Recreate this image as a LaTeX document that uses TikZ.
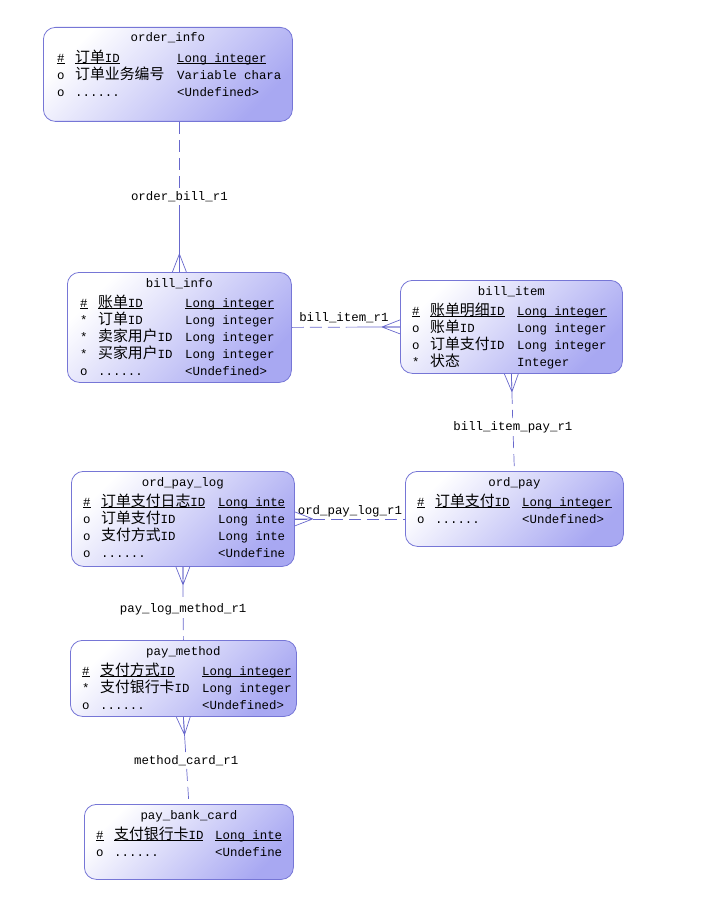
\documentclass[tikz,border=0pt]{standalone}
\usepackage{fontspec}
\setmainfont{Liberation Mono}
\newfontfamily\zhfont{Noto Sans CJK SC}[Scale=1.2]
\usetikzlibrary{calc}

\definecolor{entline}{RGB}{118,118,214}
\definecolor{entfill}{RGB}{168,168,242}
\definecolor{relline}{RGB}{104,104,204}

\newcommand\cn[1]{\smash{\zhfont #1}}
\newcommand\pk[1]{\underline{\smash{#1}}}
% crow's foot at the entity end #1 of a line going to #2
\newcommand\crowfoot[2]{%
  \draw[rel] ($(#1)!18pt!(#2)$) -- ($(#1)!7pt!90:(#2)$)
    ($(#1)!18pt!(#2)$) -- (#1)
    ($(#1)!18pt!(#2)$) -- ($(#1)!7pt!-90:(#2)$);}

\begin{document}
\begin{tikzpicture}[x=1pt,y=-1pt,
  entity/.style={draw=entline,line width=.8pt,rounded corners=12pt,
    top color=white,bottom color=entfill,shading angle=45,
    anchor=north west,inner sep=0},
  ttl/.style={anchor=base,inner sep=0,font=\fontsize{12.4}{17}\selectfont},
  rows/.style={anchor=north west,inner sep=0,font=\fontsize{12.4}{17}\selectfont},
  lbl/.style={anchor=base,inner sep=3pt,font=\fontsize{12.4}{17}\selectfont},
  rel/.style={draw=relline,line width=.7pt},
  opt/.style={rel,dash pattern=on 12pt off 6pt}]

  \useasboundingbox (0,0) rectangle (720,915);

  % entities
  \node[entity,minimum width=249pt,minimum height=94pt] (oi) at (43,27) {};
  \node[ttl] (oi-t) at ($(oi.north)+(0,15)$) {order\_info};
  \node[rows] (oi-f) at ($(oi.north west)+(14,23)$) {\begin{tabular}{@{}p{18pt}@{}p{102pt}@{}l@{}}
    \pk{\#} & \pk{\cn{订单}ID} & \pk{Long integer}\\
    o & \cn{订单业务编号} & Variable chara\\
    o & ...... & <Undefined>
  \end{tabular}};

  \node[entity,minimum width=224pt,minimum height=110pt] (bi) at (67,272) {};
  \node[ttl] (bi-t) at ($(bi.north)+(0,15)$) {bill\_info};
  \node[rows] (bi-f) at ($(bi.north west)+(13,23)$) {\begin{tabular}{@{}p{18pt}@{}p{87pt}@{}l@{}}
    \pk{\#} & \pk{\cn{账单}ID} & \pk{Long integer}\\
    {*} & \cn{订单}ID & Long integer\\
    {*} & \cn{卖家用户}ID & Long integer\\
    {*} & \cn{买家用户}ID & Long integer\\
    o & ...... & <Undefined>
  \end{tabular}};

  \node[entity,minimum width=222pt,minimum height=93pt] (bit) at (400,280) {};
  \node[ttl] (bit-t) at ($(bit.north)+(0,15)$) {bill\_item};
  \node[rows] (bit-f) at ($(bit.north west)+(12,23)$) {\begin{tabular}{@{}p{18pt}@{}p{87pt}@{}l@{}}
    \pk{\#} & \pk{\cn{账单明细}ID} & \pk{Long integer}\\
    o & \cn{账单}ID & Long integer\\
    o & \cn{订单支付}ID & Long integer\\
    {*} & \cn{状态} & Integer
  \end{tabular}};

  \node[entity,minimum width=223pt,minimum height=95pt] (opl) at (71,471) {};
  \node[ttl] (opl-t) at ($(opl.north)+(0,15)$) {ord\_pay\_log};
  \node[rows] (opl-f) at ($(opl.north west)+(12,23)$) {\begin{tabular}{@{}p{18pt}@{}p{117pt}@{}l@{}}
    \pk{\#} & \pk{\cn{订单支付日志}ID} & \pk{Long inte}\\
    o & \cn{订单支付}ID & Long inte\\
    o & \cn{支付方式}ID & Long inte\\
    o & ...... & <Undefine
  \end{tabular}};

  \node[entity,minimum width=218pt,minimum height=75pt] (op) at (405,471) {};
  \node[ttl] (op-t) at ($(op.north)+(0,15)$) {ord\_pay};
  \node[rows] (op-f) at ($(op.north west)+(12,23)$) {\begin{tabular}{@{}p{18pt}@{}p{87pt}@{}l@{}}
    \pk{\#} & \pk{\cn{订单支付}ID} & \pk{Long integer}\\
    o & ...... & <Undefined>
  \end{tabular}};

  \node[entity,minimum width=226pt,minimum height=76pt] (pm) at (70,640) {};
  \node[ttl] (pm-t) at ($(pm.north)+(0,15)$) {pay\_method};
  \node[rows] (pm-f) at ($(pm.north west)+(12,23)$) {\begin{tabular}{@{}p{18pt}@{}p{102pt}@{}l@{}}
    \pk{\#} & \pk{\cn{支付方式}ID} & \pk{Long integer}\\
    {*} & \cn{支付银行卡}ID & Long integer\\
    o & ...... & <Undefined>
  \end{tabular}};

  \node[entity,minimum width=209pt,minimum height=75pt] (pbc) at (84,804) {};
  \node[ttl] (pbc-t) at ($(pbc.north)+(0,15)$) {pay\_bank\_card};
  \node[rows] (pbc-f) at ($(pbc.north west)+(12,23)$) {\begin{tabular}{@{}p{18pt}@{}p{101pt}@{}l@{}}
    \pk{\#} & \pk{\cn{支付银行卡}ID} & \pk{Long inte}\\
    o & ...... & <Undefine
  \end{tabular}};

  % relationships
  \coordinate (c1) at (oi.south -| bi.north);
  \node[lbl] (l1) at ($(c1)!.5!(bi.north)+(0,4)$) {order\_bill\_r1};
  \draw[opt] (c1) -- (l1);
  \draw[rel] (l1) -- (bi.north);
  \crowfoot{bi.north}{c1}

  \coordinate (m2) at ($(bi.east)!.5!(bit.west)$);
  \node[lbl] (l2) at ($(m2)+(-2,-6)$) {bill\_item\_r1};
  \draw[opt] (bi.east) -- (m2);
  \draw[rel] (m2) -- (bit.west);
  \crowfoot{bit.west}{bi.east}

  \node[lbl] (l3) at ($(bit.south)!.5!(op.north)+(0,8)$) {bill\_item\_pay\_r1};
  \draw[opt] (bit.south) -- (l3);
  \draw[opt] (l3) -- (op.north);
  \crowfoot{bit.south}{op.north}

  \coordinate (c4) at (opl.east -| op.west);
  \coordinate (m4) at ($(opl.east)!.5!(c4)$);
  \node[lbl] (l4) at ($(m4)+(0,-4)$) {ord\_pay\_log\_r1};
  \draw[opt] (opl.east) -- (c4);
  \crowfoot{opl.east}{c4}

  \node[lbl] (l5) at ($(opl.south)!.5!(pm.north)+(0,9)$) {pay\_log\_method\_r1};
  \draw[opt] (opl.south) -- (l5);
  \draw[opt] (l5) -- (pm.north);
  \crowfoot{opl.south}{pm.north}

  \node[lbl] (l6) at ($(pm.south)!.5!(pbc.north)+(0,4)$) {method\_card\_r1};
  \draw[rel] (pm.south) -- (l6);
  \draw[opt] (l6) -- (pbc.north);
  \crowfoot{pm.south}{pbc.north}
\end{tikzpicture}
\end{document}
